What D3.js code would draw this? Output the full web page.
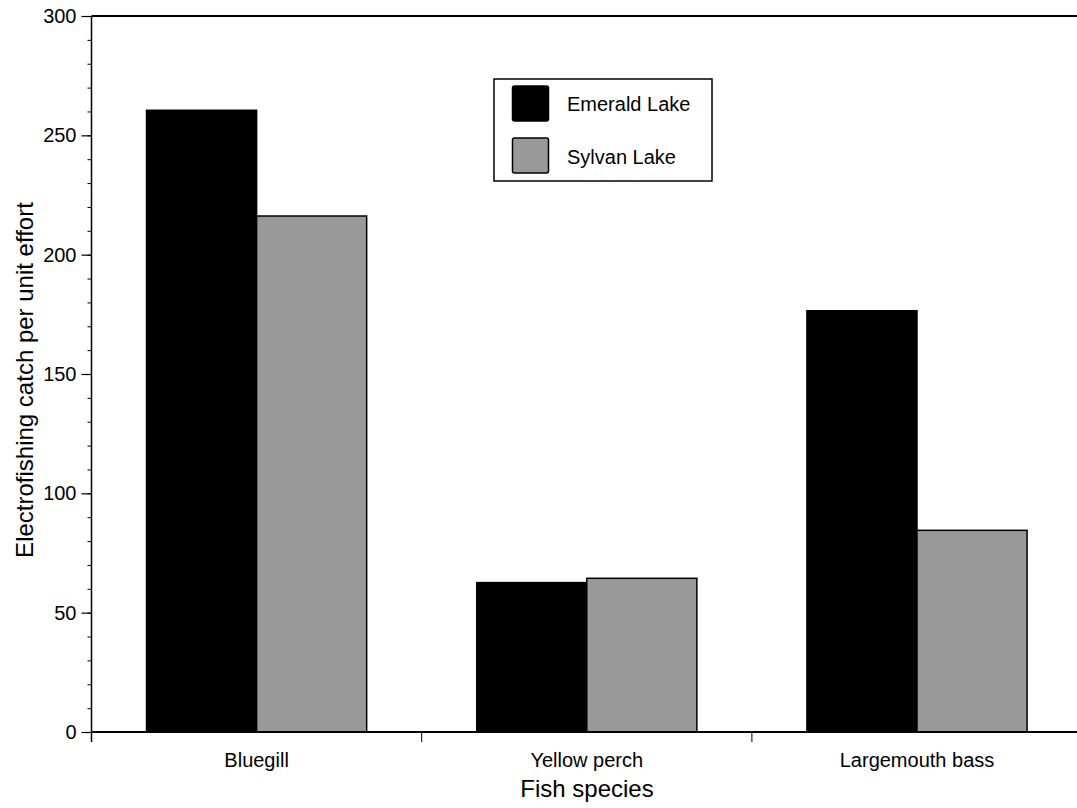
<!DOCTYPE html>
<html><head><meta charset="utf-8">
<script src="https://cdn.jsdelivr.net/npm/d3@7"></script>
<style>body{margin:0;background:#fff}svg{display:block;font-family:"Liberation Sans",Arial,sans-serif}</style>
</head><body>
<script>
const categories = ["Bluegill", "Yellow perch", "Largemouth bass"];
const seriesNames = ["Emerald Lake", "Sylvan Lake"];
const emerald = [260.5, 62.6, 176.5];
const sylvan = [216.2, 64.4, 84.5];
const seriesColors = ["#000000", "#999999"];
const yMajorTicks = [0, 50, 100, 150, 200, 250, 300];

(function () {
const W = 1077, H = 808;
const plotLeft = 91.5, plotTop = 16, plotBottom = 732, band = 330.2;
const svg = d3.select("body").append("svg").attr("width", W).attr("height", H);

const y = d3.scaleLinear().domain([0, 300]).range([plotBottom, plotTop]);
const x0 = d3.scaleBand().domain(categories).range([plotLeft, plotLeft + band * categories.length]).padding(0);
const x1 = d3.scaleBand().domain(seriesNames).range([0, x0.bandwidth()]).paddingInner(0).paddingOuter(0.5);

const values = [emerald, sylvan];
const g = svg.append("g");
categories.forEach((c, i) => {
  seriesNames.forEach((s, j) => {
    g.append("rect")
      .attr("x", x0(c) + x1(s))
      .attr("y", y(values[j][i]))
      .attr("width", x1.bandwidth())
      .attr("height", y(0) - y(values[j][i]))
      .attr("fill", seriesColors[j])
      .attr("stroke", "#000").attr("stroke-width", 1.5);
  });
});

svg.append("line").attr("x1", plotLeft).attr("x2", W).attr("y1", plotTop).attr("y2", plotTop)
  .attr("stroke", "#000").attr("stroke-width", 2);
svg.append("line").attr("x1", plotLeft).attr("x2", W).attr("y1", plotBottom).attr("y2", plotBottom)
  .attr("stroke", "#000").attr("stroke-width", 2);
svg.append("line").attr("x1", plotLeft).attr("x2", plotLeft).attr("y1", plotTop).attr("y2", plotBottom + 10)
  .attr("stroke", "#000").attr("stroke-width", 1.5);

const yMinor = d3.axisLeft(y).tickValues(d3.range(0, 301, 10)).tickSize(4).tickFormat("");
const gm = svg.append("g").attr("transform", `translate(${plotLeft},0)`).call(yMinor);
gm.select(".domain").remove();
gm.selectAll("line").attr("stroke", "#000").attr("stroke-width", 1);

const yAxis = d3.axisLeft(y).tickValues(yMajorTicks).tickSize(10).tickPadding(5);
const ga = svg.append("g").attr("transform", `translate(${plotLeft},0)`).call(yAxis);
ga.select(".domain").remove();
ga.selectAll("line").attr("stroke", "#000").attr("stroke-width", 1.2);
ga.selectAll("text").attr("font-size", 20).attr("fill", "#000").attr("font-family", "Liberation Sans, Arial, sans-serif");

categories.forEach(c => {
  svg.append("line").attr("x1", x0(c)).attr("x2", x0(c)).attr("y1", plotBottom).attr("y2", plotBottom + 10)
    .attr("stroke", "#000").attr("stroke-width", 1);
  svg.append("text").attr("x", x0(c) + x0.bandwidth() / 2).attr("y", 767)
    .attr("text-anchor", "middle").attr("font-size", 20).text(c);
});

svg.append("text").attr("x", 587).attr("y", 797).attr("text-anchor", "middle")
  .attr("font-size", 24).text("Fish species");
svg.append("text").attr("transform", "translate(33,380) rotate(-90)")
  .attr("text-anchor", "middle").attr("font-size", 24).text("Electrofishing catch per unit effort");

const lg = svg.append("g");
lg.append("rect").attr("x", 494).attr("y", 79).attr("width", 218).attr("height", 102)
  .attr("fill", "#fff").attr("stroke", "#000").attr("stroke-width", 1.5);
const swY = [86, 138];
const txtY = [111, 164];
seriesNames.forEach((s, j) => {
  lg.append("rect").attr("x", 512.5).attr("y", swY[j]).attr("width", 36).attr("height", 35)
    .attr("rx", 2).attr("fill", seriesColors[j]).attr("stroke", "#000").attr("stroke-width", 1.5);
  lg.append("text").attr("x", 567).attr("y", txtY[j]).attr("font-size", 20).text(s);
});
})();
</script>
</body></html>
